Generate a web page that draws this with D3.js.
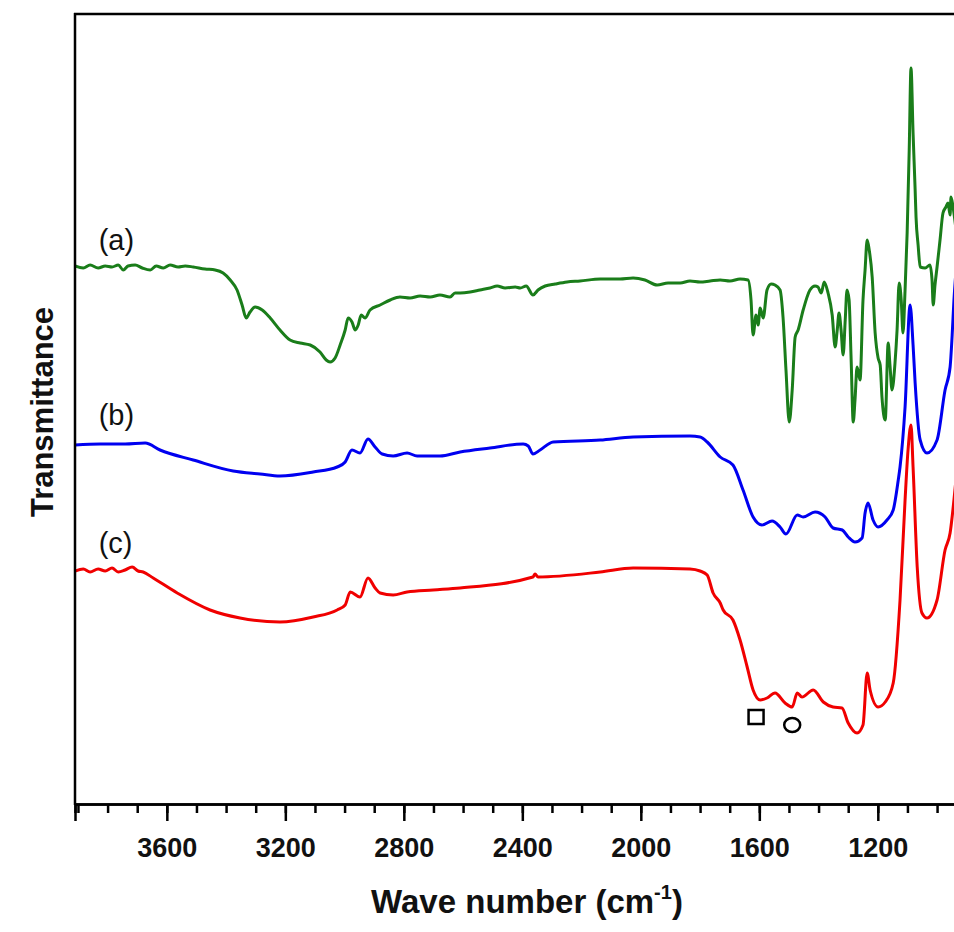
<html>
<head>
<style>
  body { margin: 0; background: #fff; }
  svg { display: block; font-family: "Liberation Sans", Arial, sans-serif; }
</style>
</head>
<body>
<script src="https://d3js.org/d3.v7.min.js"></script>
<script>
var width = 954, height = 932;

// (a) wave numbers (cm-1) and transmittance (a.u.)
let waveA = [3910,3882,3859,3832,3808,3785,3764,3747,3731,3707,3683,3656,3636,3612,3589,3562,3538,3511,3471,3437,3410,3386,3363,3346,3332,3319,3302,3278,3251,3218,3184,3150,3116,3083,3062,3049,3032,3015,2998,2988,2975,2964,2954,2944,2931,2914,2880,2846,2813,2779,2745,2711,2678,2644,2627,2610,2576,2543,2509,2485,2458,2424,2407,2387,2364,2347,2323,2289,2249,2205,2137,2070,2026,1986,1945,1908,1867,1834,1800,1766,1732,1699,1665,1638,1628,1621,1611,1604,1597,1587,1574,1560,1547,1530,1520,1510,1499,1489,1479,1469,1452,1429,1412,1402,1391,1381,1368,1354,1344,1337,1331,1324,1317,1310,1304,1297,1290,1283,1277,1270,1260,1250,1243,1236,1229,1219,1209,1199,1192,1186,1175,1165,1159,1152,1142,1135,1128,1121,1115,1108,1101,1094,1088,1081,1074,1071,1064,1057,1040,1024,1017,1013,1007,1000,990,980,970,963,956,953,946,936]
let transA = [538,536,539,536,538,537,539,534,538,539,536,534,538,536,539,537,538,537,535,534,531,524,514,499,486,492,497,494,486,474,464,461,459,452,444,442,446,459,474,486,482,474,479,489,486,494,499,504,507,506,508,507,509,507,511,511,512,514,516,518,516,517,516,518,509,514,518,520,522,523,525,525,526,524,519,521,521,523,522,523,524,523,525,524,504,469,489,479,496,486,514,520,519,514,487,434,382,414,467,474,494,514,518,517,511,522,511,489,457,474,491,474,449,484,514,504,444,382,404,437,424,504,534,564,554,527,471,446,439,407,384,461,439,414,441,474,521,504,471,514,571,654,736,671,614,587,559,537,536,539,524,499,519,537,564,591,597,601,589,607,597,574]

// (b)
let waveB = [3910,3825,3741,3673,3623,3511,3376,3285,3218,3106,3025,2998,2975,2948,2921,2897,2873,2836,2789,2755,2678,2610,2509,2397,2380,2364,2340,2296,2137,2026,1834,1800,1776,1732,1689,1655,1621,1591,1557,1530,1510,1472,1452,1412,1378,1351,1320,1300,1277,1253,1243,1233,1216,1199,1169,1148,1131,1125,1108,1091,1081,1074,1057,1034,1000,973,956,949,943,933]
let transB = [359,360,360,361,354,344,333,330,328,332,337,342,354,351,365,357,350,348,351,348,348,352,356,360,358,350,354,362,364,367,368,367,362,347,339,314,287,279,283,277,270,289,287,292,287,276,274,267,262,266,291,301,284,277,284,294,324,337,397,499,459,421,364,351,364,414,437,469,504,544]

// (c)
let waveC = [3910,3882,3859,3832,3808,3785,3764,3741,3717,3697,3680,3646,3565,3454,3353,3218,3106,3025,2998,2981,2948,2921,2897,2880,2836,2789,2701,2610,2364,2357,2347,2137,2026,1834,1800,1776,1756,1732,1722,1689,1665,1641,1621,1597,1574,1547,1513,1489,1472,1456,1418,1384,1351,1321,1300,1270,1250,1236,1226,1199,1175,1148,1125,1108,1098,1088,1081,1067,1051,1034,1000,973,956,943,933]
let transC = [233,235,232,235,233,236,232,234,237,233,232,226,211,194,186,182,187,194,199,212,207,226,216,211,209,212,214,216,227,230,227,232,236,235,233,229,211,201,194,184,164,137,114,104,106,111,101,97,111,107,114,102,97,96,81,71,79,131,114,97,102,121,204,304,354,379,337,237,191,186,204,254,271,304,334]

let series = [
  {name: "(a)", wave: waveA, trans: transA, color: "#1a7d1a"},
  {name: "(b)", wave: waveB, trans: transB, color: "#0000f0"},
  {name: "(c)", wave: waveC, trans: transC, color: "#f00000"}
]
let curveLabels = ["(a)", "(b)", "(c)"]
let labelPos = [[3830, 554], [3830, 379], [3830, 251]]  // wave number, a.u.

let majorTicks = [3600, 3200, 2800, 2400, 2000, 1600, 1200]
let minorTicks = d3.range(3900, 850, -100)

// marker annotations: square and circle
let markerSquare = [1611, 87]
let markerCircle = [1489, 79]

var svg = d3.select("body").append("svg")
  .attr("width", width).attr("height", height)
  .style("overflow", "hidden")

var x = d3.scaleLinear().domain([3910, 850]).range([75, 981.5])
var y = d3.scaleLinear().domain([0, 790]).range([804, 14])

svg.append("clipPath").attr("id", "clip")
  .append("rect").attr("x", 75).attr("y", 14).attr("width", 906).attr("height", 790)

var line = d3.line()
  .x((d) => x(d[0]))
  .y((d) => y(d[1]))
  .curve(d3.curveMonotoneX)

let plot = svg.append("g").attr("clip-path", "url(#clip)")
series.forEach(function(s) {
  plot.append("path")
    .datum(s.wave.map((w, i) => [w, s.trans[i]]))
    .attr("d", line)
    .attr("fill", "none")
    .attr("stroke", s.color)
    .attr("stroke-width", 3)
    .attr("stroke-linejoin", "round")
})

// markers
plot.append("rect")
  .attr("x", x(markerSquare[0]) - 7.5).attr("y", y(markerSquare[1]) - 7)
  .attr("width", 15).attr("height", 14)
  .attr("fill", "none").attr("stroke", "#000").attr("stroke-width", 2.5)
plot.append("ellipse")
  .attr("cx", x(markerCircle[0])).attr("cy", y(markerCircle[1]))
  .attr("rx", 8).attr("ry", 7)
  .attr("fill", "none").attr("stroke", "#000").attr("stroke-width", 2.5)

// curve labels
curveLabels.forEach(function(t, i) {
  svg.append("text")
    .attr("x", x(labelPos[i][0])).attr("y", y(labelPos[i][1]))
    .attr("font-size", 29).attr("fill", "#111")
    .text(t)
})

// frame
svg.append("line").attr("x1", 75).attr("x2", 75).attr("y1", 13).attr("y2", 805)
  .attr("stroke", "#000").attr("stroke-width", 2.5)
svg.append("line").attr("x1", 74).attr("x2", 1000).attr("y1", 14).attr("y2", 14)
  .attr("stroke", "#000").attr("stroke-width", 2.5)

// axes
let minorAxis = svg.append("g")
  .attr("transform", "translate(0,804)")
  .call(d3.axisBottom(x).tickValues(minorTicks).tickSize(9).tickFormat(""))
let majorAxis = svg.append("g")
  .attr("transform", "translate(0,804)")
  .call(d3.axisBottom(x).tickValues(majorTicks).tickSize(17).tickPadding(17).tickFormat(d3.format("d")))
svg.selectAll(".domain").attr("stroke-width", 2.5)
svg.selectAll(".tick line").attr("stroke-width", 2.5)
majorAxis.selectAll("text")
  .attr("font-size", 27).attr("font-weight", "bold")
  .attr("font-family", "'Liberation Sans', Arial, sans-serif").attr("fill", "#111")

// axis titles
let xt = svg.append("text")
  .attr("x", 527).attr("y", 913)
  .attr("text-anchor", "middle")
  .attr("font-size", 33).attr("font-weight", "bold").attr("fill", "#111")
xt.append("tspan").text("Wave number (cm")
xt.append("tspan").attr("font-size", 20).attr("dy", -14).text("-1")
xt.append("tspan").attr("dy", 14).text(")")

svg.append("text")
  .attr("transform", "translate(53,412) rotate(-90)")
  .attr("text-anchor", "middle")
  .attr("font-size", 31).attr("font-weight", "bold").attr("fill", "#111")
  .text("Transmittance")
</script>
</body>
</html>
